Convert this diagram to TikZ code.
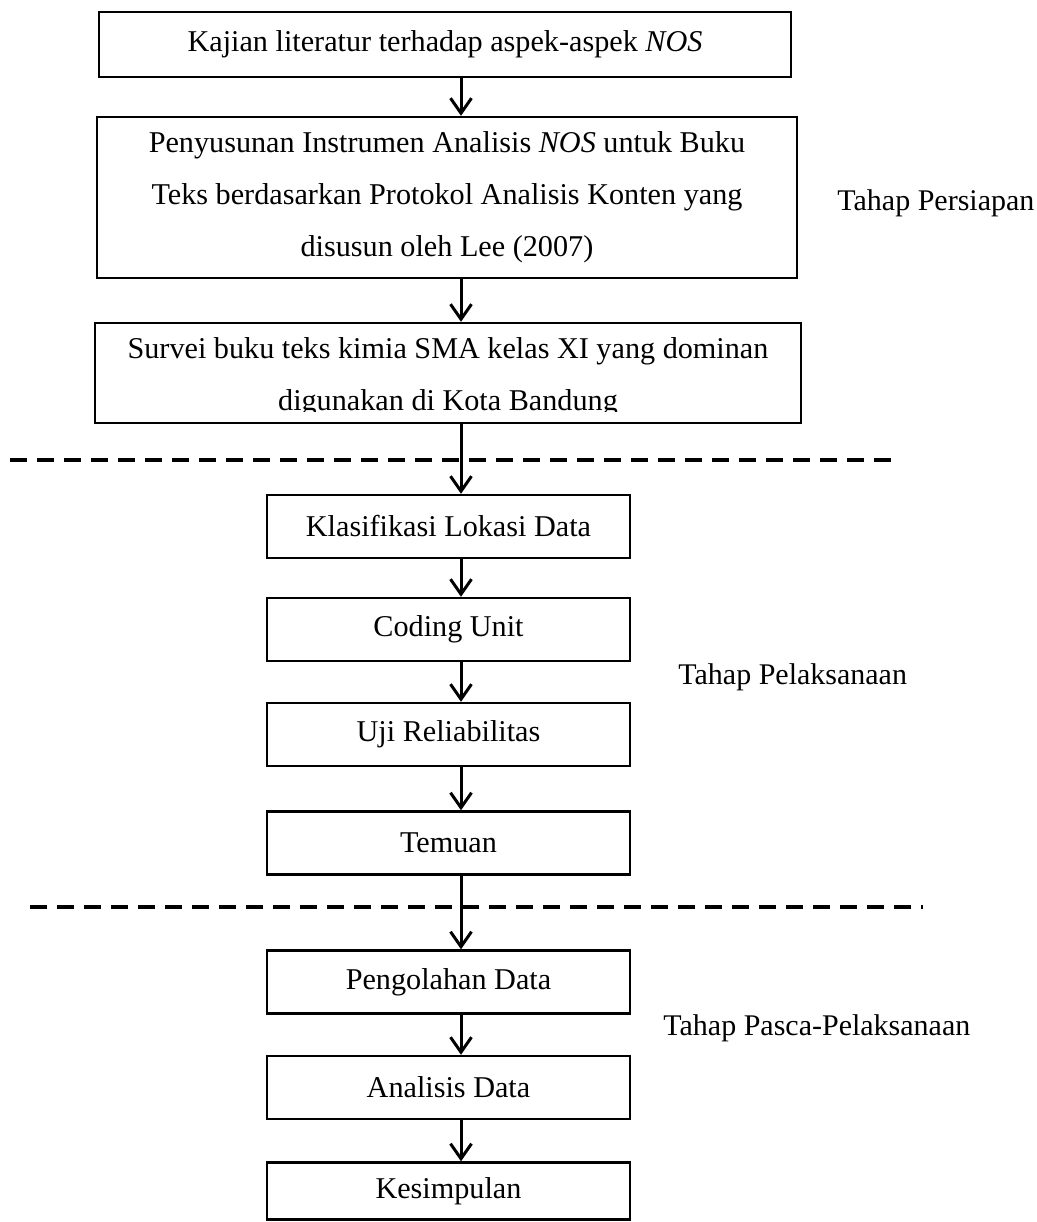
\documentclass[tikz,border=0pt]{standalone}
\usepackage{fontspec}
\setmainfont{Liberation Serif}
\usetikzlibrary{arrows.meta}
\begin{document}
\begin{tikzpicture}[x=0.5pt,y=-0.5pt,
  box/.style={draw, line width=1.2pt, inner sep=0pt},
  txt/.style={font=\fontsize{15.1}{26}\selectfont, inner sep=0pt, align=center},
  small/.style={box, txt, minimum width=181.5pt, minimum height=31.5pt},
  flow/.style={-{Straight Barb[length=7.5pt,width=10.5pt,line width=1.5pt]}, line width=1.5pt},
  sep/.style={line width=2pt, dash pattern=on 8.5pt off 5pt},
  stage/.style={font=\fontsize{15}{18}\selectfont, anchor=west, inner sep=0pt}]
\useasboundingbox (0,0) rectangle (1037,1222);
\coordinate (ax) at (461,0);

% top boxes
\node[box, txt, minimum width=346pt, minimum height=32.5pt] (b1) at (445,44.5)
  {Kajian literatur terhadap aspek-aspek \textit{NOS}};
\node[box, txt, minimum width=350pt, minimum height=80.5pt] (b2) at (447,197.5)
  {Penyusunan Instrumen Analisis \textit{NOS} untuk Buku\\
   Teks berdasarkan Protokol Analisis Konten yang\\
   disusun oleh Lee (2007)};
\node[box, minimum width=353pt, minimum height=50pt] (b3) at (448,373) {};
\begin{scope}
  \clip (95,323) rectangle (801,411);
  \node[txt] (b3t) at (448,377)
    {Survei buku teks kimia SMA kelas XI yang dominan\\
     digunakan di Kota Bandung};
\end{scope}

% dashed separators
\coordinate (d1a) at (10,460);
\coordinate (d1b) at (900,460);
\coordinate (d2a) at (30,907);
\coordinate (d2b) at (923,907);
\draw[sep] (d1a) -- (d1b);
\draw[sep] (d2a) -- (d2b);

% small boxes
\node[small] (s1) at (448.5,526.5) {Klasifikasi Lokasi Data};
\node[small] (s2) at (448.5,629.5) {Coding Unit};
\node[small] (s3) at (448.5,734.5) {Uji Reliabilitas};
\node[small] (s4) at (448.5,843) {Temuan};
\node[small] (s5) at (448.5,982) {Pengolahan Data};
\node[small] (s6) at (448.5,1087.5) {Analisis Data};
\node[box, txt, minimum width=181.5pt, minimum height=28.5pt] (s7) at (448.5,1191) {Kesimpulan};

% arrows
\draw[flow] (b1.south -| ax) -- (b2.north -| ax);
\draw[flow] (b2.south -| ax) -- (b3.north -| ax);
\draw[flow] (b3.south -| ax) -- (s1.north -| ax);
\draw[flow] (s1.south -| ax) -- (s2.north -| ax);
\draw[flow] (s2.south -| ax) -- (s3.north -| ax);
\draw[flow] (s3.south -| ax) -- (s4.north -| ax);
\draw[flow] (s4.south -| ax) -- (s5.north -| ax);
\draw[flow] (s5.south -| ax) -- (s6.north -| ax);
\draw[flow] (s6.south -| ax) -- (s7.north -| ax);

% stage labels
\node[stage] (l1) at (837,203) {Tahap Persiapan};
\node[stage] (l2) at (678,677) {Tahap Pelaksanaan};
\node[stage] (l3) at (663,1028) {Tahap Pasca-Pelaksanaan};
\end{tikzpicture}
\end{document}
